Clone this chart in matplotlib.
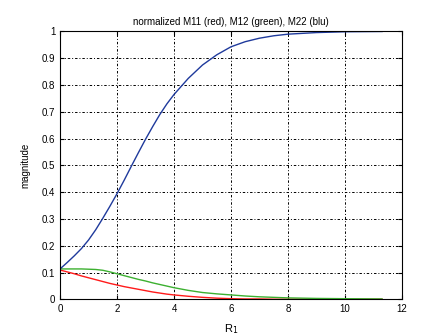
import numpy as np
import matplotlib.pyplot as plt

# values
r1 = [0, 0.25, 0.5, 0.75, 1, 1.25, 1.5, 1.75, 2, 2.25, 2.5, 2.75, 3, 3.25, 3.5, 3.75, 4,
      4.5, 5, 5.5, 6, 6.5, 7, 7.5, 8, 9, 10, 11.3]
m22 = [0.114, 0.138, 0.163, 0.19, 0.222, 0.26, 0.303, 0.348, 0.395, 0.445, 0.497, 0.548, 0.598,
       0.645, 0.69, 0.73, 0.765, 0.825, 0.875, 0.913, 0.943, 0.962, 0.975, 0.984, 0.99, 0.996, 0.999, 1.0]
m12 = [0.114, 0.114, 0.114, 0.114, 0.113, 0.112, 0.109, 0.103, 0.096, 0.089, 0.082, 0.075, 0.069,
       0.062, 0.056, 0.05, 0.044, 0.034, 0.026, 0.021, 0.017, 0.013, 0.01, 0.008, 0.006, 0.004, 0.003, 0.002]
m11 = [0.11, 0.103, 0.096, 0.088, 0.081, 0.074, 0.067, 0.06, 0.054, 0.048, 0.043, 0.038, 0.033,
       0.028, 0.024, 0.02, 0.017, 0.012, 0.008, 0.005, 0.003, 0.002, 0.002, 0.001, 0.001, 0.001, 0.001, 0.001]

plt.rcParams['font.family'] = ['Liberation Sans', 'DejaVu Sans']
plt.rcParams['font.size'] = 7

fig = plt.figure(figsize=(4.29, 3.35), dpi=100)
ax = fig.add_axes([0.14, 0.106, 0.797, 0.80])

ax.plot(r1, m11, color='#ff1a1a', lw=1.0)
ax.plot(r1, m12, color='#3cb030', lw=1.0)
ax.plot(r1, m22, color='#1f3a9c', lw=1.0)

ax.set_xlim(0, 12)
ax.set_ylim(0, 1)
ax.set_xticks(np.arange(0, 13, 2))
ax.set_yticks(np.arange(0, 1.01, 0.1))
ax.set_yticklabels(['0', '0.1', '0.2', '0.3', '0.4', '0.5', '0.6', '0.7', '0.8', '0.9', '1'])
ax.grid(True, color='black', linestyle=(0, (2.5, 2, 1, 2)), linewidth=0.7)
ax.tick_params(direction='in', top=True, right=True, length=3, labelsize=7)
for s in ax.spines.values():
    s.set_linewidth(0.8)

ax.set_title('normalized M11 (red), M12 (green), M22 (blu)', fontsize=7, pad=5)
ax.set_xlabel('R$_1$', fontsize=8, labelpad=6)
ax.set_ylabel('magnitude', fontsize=7, labelpad=8)

fig.savefig('out.png', dpi=100)
